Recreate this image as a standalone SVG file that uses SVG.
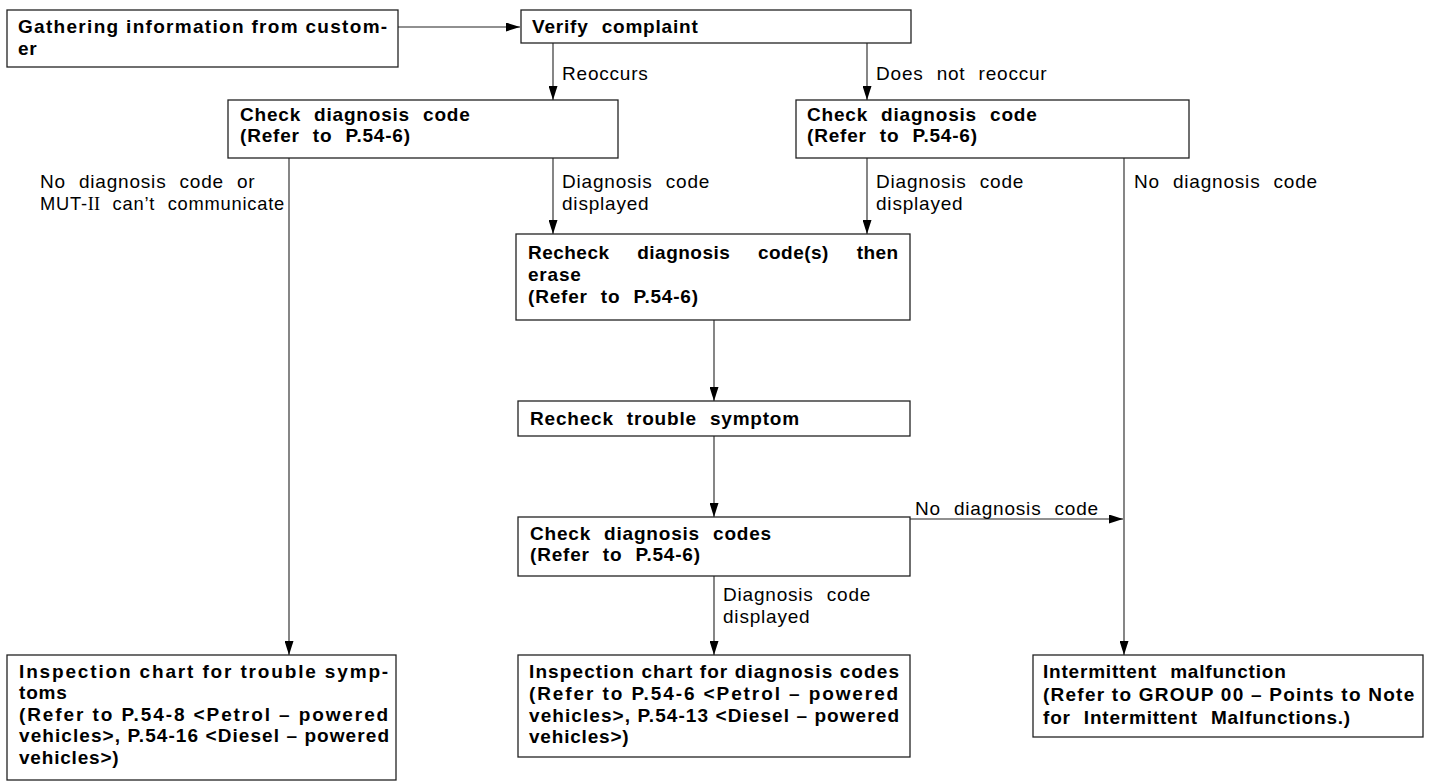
<svg xmlns="http://www.w3.org/2000/svg" width="1432" height="782" viewBox="0 0 1432 782">
<style>
.box{fill:#fff;stroke:#222;stroke-width:1.3}
.b{font-family:"Liberation Sans",Arial,sans-serif;font-weight:bold;font-size:19px;letter-spacing:0.8px;word-spacing:7px;fill:#000}
.r{font-family:"Liberation Sans",Arial,sans-serif;font-size:19px;letter-spacing:0.8px;word-spacing:7px;fill:#000}
.c{fill:none;stroke:#222;stroke-width:1.1}
.j{word-spacing:0}
.rn{font-family:"Liberation Serif","Times New Roman",serif;letter-spacing:0}
</style>
<defs>
<marker id="ah" markerUnits="userSpaceOnUse" markerWidth="15" markerHeight="9" refX="14" refY="4.5" orient="auto">
<path d="M0,0 L14,4.5 L0,9 z" fill="#000"/>
</marker>
</defs>
<g id="connectors">
<line class="c" x1="398" y1="27" x2="520" y2="27" marker-end="url(#ah)"/>
<line class="c" x1="553" y1="43" x2="553" y2="100" marker-end="url(#ah)"/>
<line class="c" x1="867" y1="43" x2="867" y2="100" marker-end="url(#ah)"/>
<line class="c" x1="289" y1="158" x2="289" y2="655" marker-end="url(#ah)"/>
<line class="c" x1="553" y1="158" x2="553" y2="234" marker-end="url(#ah)"/>
<line class="c" x1="867" y1="158" x2="867" y2="234" marker-end="url(#ah)"/>
<line class="c" x1="1124" y1="158" x2="1124" y2="655" marker-end="url(#ah)"/>
<line class="c" x1="714" y1="320" x2="714" y2="401" marker-end="url(#ah)"/>
<line class="c" x1="714" y1="436" x2="714" y2="517" marker-end="url(#ah)"/>
<line class="c" x1="910" y1="519" x2="1123" y2="519" marker-end="url(#ah)"/>
<line class="c" x1="714" y1="576" x2="714" y2="655" marker-end="url(#ah)"/>
<text class="r" x="562" y="80">Reoccurs</text>
<text class="r" x="876" y="80">Does not reoccur</text>
<text class="r" x="40" y="188">No diagnosis code or</text>
<text class="r" x="40" y="210" textLength="245" lengthAdjust="spacingAndGlyphs">MUT-<tspan class="rn">II</tspan> can’t communicate</text>
<text class="r" x="562" y="188">Diagnosis code</text>
<text class="r" x="562" y="210">displayed</text>
<text class="r" x="876" y="188">Diagnosis code</text>
<text class="r" x="876" y="210">displayed</text>
<text class="r" x="1134" y="188">No diagnosis code</text>
<text class="r" x="915" y="515">No diagnosis code</text>
<text class="r" x="723" y="601">Diagnosis code</text>
<text class="r" x="723" y="623">displayed</text>
</g>
<g id="gather">
<rect class="box" x="7" y="10" width="391" height="57"/>
<text class="b j" x="18" y="33" textLength="370" lengthAdjust="spacing">Gathering information from custom-</text>
<text class="b" x="18" y="55">er</text>
</g>
<g id="verify">
<rect class="box" x="521" y="10" width="390" height="33"/>
<text class="b" x="532" y="33">Verify complaint</text>
</g>
<g id="checkL">
<rect class="box" x="228" y="100" width="390" height="58"/>
<text class="b" x="240" y="121">Check diagnosis code</text>
<text class="b" x="240" y="142">(Refer to P.54-6)</text>
</g>
<g id="checkR">
<rect class="box" x="796" y="100" width="393" height="58"/>
<text class="b" x="807" y="121">Check diagnosis code</text>
<text class="b" x="807" y="142">(Refer to P.54-6)</text>
</g>
<g id="recheckCodes">
<rect class="box" x="516" y="234" width="394" height="86"/>
<text class="b" x="528" y="259" textLength="371" lengthAdjust="spacing" style="word-spacing:22px">Recheck diagnosis code(s) then</text>
<text class="b" x="528" y="281">erase</text>
<text class="b" x="528" y="303">(Refer to P.54-6)</text>
</g>
<g id="recheckSymptom">
<rect class="box" x="518" y="401" width="392" height="35"/>
<text class="b" x="530" y="425">Recheck trouble symptom</text>
</g>
<g id="checkCodes">
<rect class="box" x="518" y="517" width="392" height="59"/>
<text class="b" x="530" y="540">Check diagnosis codes</text>
<text class="b" x="530" y="561">(Refer to P.54-6)</text>
</g>
<g id="troubleChart">
<rect class="box" x="7" y="655" width="389" height="125"/>
<text class="b j" x="19" y="678" textLength="370" lengthAdjust="spacing">Inspection chart for trouble symp-</text>
<text class="b" x="19" y="699">toms</text>
<text class="b j" x="19" y="721" textLength="370" lengthAdjust="spacing">(Refer to P.54-8 &lt;Petrol – powered</text>
<text class="b j" x="19" y="742" textLength="370" lengthAdjust="spacing" style="letter-spacing:0">vehicles&gt;, P.54-16 &lt;Diesel – powered</text>
<text class="b" x="19" y="764">vehicles&gt;)</text>
</g>
<g id="codesChart">
<rect class="box" x="518" y="655" width="392" height="102"/>
<text class="b j" x="529" y="678" textLength="370" lengthAdjust="spacing" style="letter-spacing:0">Inspection chart for diagnosis codes</text>
<text class="b j" x="529" y="700" textLength="370" lengthAdjust="spacing">(Refer to P.54-6 &lt;Petrol – powered</text>
<text class="b j" x="529" y="722" textLength="370" lengthAdjust="spacing" style="letter-spacing:0">vehicles&gt;, P.54-13 &lt;Diesel – powered</text>
<text class="b" x="529" y="743">vehicles&gt;)</text>
</g>
<g id="intermittent">
<rect class="box" x="1033" y="655" width="390" height="82"/>
<text class="b" x="1043" y="678">Intermittent malfunction</text>
<text class="b j" x="1043" y="701" textLength="372" lengthAdjust="spacing">(Refer to GROUP 00 – Points to Note</text>
<text class="b" x="1043" y="724">for Intermittent Malfunctions.)</text>
</g>
</svg>
